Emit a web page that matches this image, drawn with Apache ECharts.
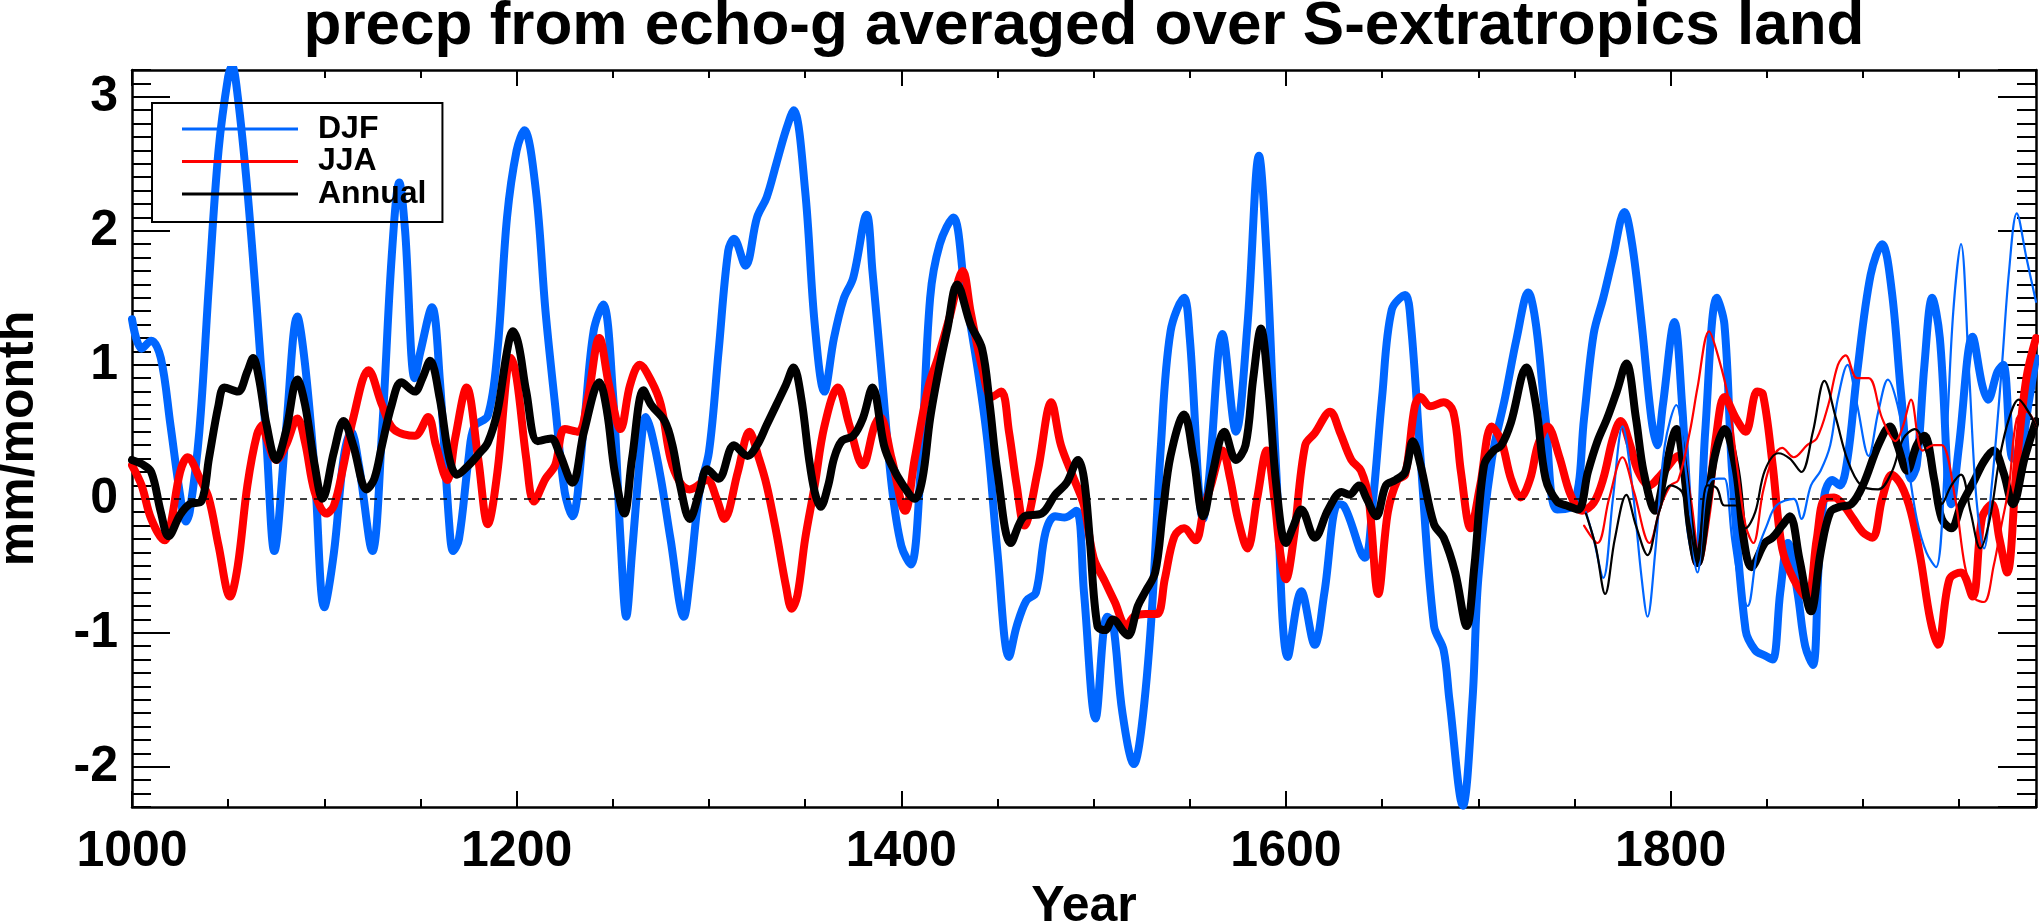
<!DOCTYPE html>
<html>
<head>
<meta charset="utf-8">
<script src="https://cdn.jsdelivr.net/npm/echarts@6/dist/echarts.min.js"></script>
<style>
html,body{margin:0;padding:0;background:#fff;}
#chart{width:2039px;height:924px;}
</style>
</head>
<body>
<div id="chart"></div>
<script>
// ---- data (year, mm/month) ----
const titleText = "precp from echo-g averaged over S-extratropics land";
const xTickYears = [1000, 1200, 1400, 1600, 1800];
const legendNames = ["DJF", "JJA", "Annual"];

const djf = [[1000,1.34],[1005,1.12],[1010,1.18],[1015,1.05],[1020,0.55],[1025,0.03],[1028,-0.17],[1030,-0.1],[1035,0.5],[1040,1.6],[1045,2.6],[1050,3.15],[1052,3.23],[1055,3.0],[1060,2.3],[1065,1.4],[1070,0.4],[1074,-0.39],[1080,0.5],[1086,1.36],[1090,1.0],[1095,0.2],[1100,-0.81],[1105,-0.4],[1110,0.3],[1114,0.5],[1118,0.25],[1125,-0.39],[1130,0.5],[1135,1.8],[1139,2.36],[1142,2.0],[1147,0.9],[1150,1.1],[1156,1.43],[1160,0.9],[1165,-0.2],[1167,-0.39],[1170,-0.3],[1175,0.3],[1178,0.54],[1185,0.62],[1190,1.1],[1195,2.1],[1200,2.6],[1204,2.75],[1210,2.3],[1215,1.4],[1220,0.7],[1225,0.05],[1229,-0.13],[1235,0.55],[1240,1.25],[1245,1.45],[1250,0.8],[1254,-0.3],[1257,-0.88],[1260,-0.4],[1265,0.45],[1267,0.61],[1270,0.5],[1275,0.15],[1280,-0.3],[1287,-0.88],[1290,-0.6],[1295,0.05],[1300,0.35],[1305,1.1],[1310,1.85],[1313,1.94],[1319,1.74],[1325,2.1],[1330,2.25],[1335,2.5],[1340,2.75],[1344,2.9],[1350,2.3],[1355,1.3],[1360,0.8],[1365,1.2],[1370,1.49],[1375,1.65],[1382,2.12],[1385,1.7],[1390,0.9],[1395,0.1],[1400,-0.35],[1405,-0.49],[1410,0.2],[1415,1.5],[1420,1.9],[1427,2.1],[1433,1.56],[1440,0.94],[1445,0.4],[1450,-0.4],[1456,-1.18],[1460,-0.95],[1465,-0.76],[1470,-0.7],[1475,-0.25],[1480,-0.13],[1485,-0.14],[1491,-0.09],[1495,-0.7],[1501,-1.64],[1507,-0.88],[1510,-0.92],[1515,-1.6],[1521,-1.98],[1525,-1.7],[1530,-0.9],[1535,0.4],[1540,1.25],[1547,1.5],[1550,1.2],[1557,-0.15],[1560,0.15],[1567,1.23],[1574,0.5],[1580,1.3],[1586,2.56],[1590,1.8],[1595,0.2],[1601,-1.18],[1608,-0.69],[1615,-1.09],[1620,-0.7],[1627,-0.04],[1630,-0.05],[1641,-0.44],[1645,-0.05],[1650,0.76],[1655,1.41],[1662,1.52],[1665,1.3],[1670,0.3],[1677,-0.95],[1682,-1.13],[1685,-1.5],[1692,-2.29],[1697,-1.5],[1700,-0.6],[1707,0.29],[1714,0.76],[1720,1.2],[1726,1.54],[1730,1.3],[1735,0.6],[1741,-0.08],[1750,-0.04],[1755,0.6],[1760,1.23],[1765,1.5],[1770,1.8],[1776,2.14],[1780,1.9],[1785,1.3],[1790,0.6],[1793,0.4],[1796,0.7],[1802,1.32],[1806,0.7],[1810,-0.2],[1814,-0.48],[1818,0.5],[1824,1.5],[1828,1.3],[1832,0.2],[1839,-0.98],[1844,-1.13],[1849,-1.17],[1853,-1.2],[1857,-0.7],[1861,-0.33],[1866,-0.7],[1870,-1.1],[1874,-1.24],[1877,-0.5],[1880,0.03],[1884,0.14],[1888,0.1],[1892,0.3],[1897,0.94],[1904,1.67],[1910,1.9],[1915,1.55],[1920,0.76],[1925,0.15],[1928,0.25],[1932,1.0],[1936,1.5],[1940,1.2],[1946,-0.04],[1950,0.4],[1957,1.21],[1962,0.85],[1965,0.74],[1970,0.95],[1973,1.0],[1978,0.3],[1982,0.35],[1986,0.7],[1990,1.05]];

const jja = [[1000,0.25],[1005,0.1],[1010,-0.15],[1017,-0.31],[1020,-0.2],[1025,0.2],[1029,0.31],[1035,0.16],[1040,0.0],[1045,-0.35],[1051,-0.73],[1055,-0.5],[1060,0.1],[1065,0.48],[1068,0.55],[1070,0.45],[1075,0.29],[1080,0.4],[1086,0.6],[1090,0.42],[1095,0.05],[1101,-0.11],[1105,-0.05],[1110,0.25],[1115,0.6],[1123,0.96],[1130,0.7],[1136,0.52],[1147,0.47],[1154,0.61],[1158,0.4],[1164,0.14],[1168,0.45],[1174,0.83],[1180,0.3],[1185,-0.19],[1190,0.2],[1195,0.95],[1197,1.05],[1200,0.9],[1205,0.3],[1209,-0.02],[1215,0.15],[1220,0.25],[1225,0.52],[1232,0.5],[1237,0.75],[1243,1.2],[1248,0.85],[1254,0.52],[1259,0.85],[1264,1.0],[1270,0.88],[1275,0.7],[1280,0.3],[1285,0.12],[1290,0.07],[1299,0.14],[1304,0.0],[1308,-0.15],[1315,0.2],[1321,0.5],[1326,0.3],[1330,0.1],[1335,-0.25],[1340,-0.65],[1343,-0.82],[1346,-0.72],[1350,-0.3],[1355,0.1],[1360,0.54],[1367,0.83],[1373,0.55],[1380,0.25],[1386,0.54],[1389,0.61],[1395,0.3],[1402,-0.09],[1407,0.3],[1414,0.83],[1419,1.05],[1425,1.35],[1432,1.7],[1436,1.4],[1442,0.98],[1447,0.76],[1452,0.8],[1456,0.5],[1460,0.1],[1464,-0.2],[1471,0.21],[1478,0.72],[1483,0.4],[1490,0.14],[1495,-0.05],[1500,-0.44],[1506,-0.62],[1511,-0.77],[1517,-0.95],[1521,-0.88],[1527,-0.86],[1533,-0.86],[1537,-0.6],[1542,-0.28],[1547,-0.22],[1553,-0.31],[1557,-0.1],[1561,0.1],[1567,0.36],[1571,0.15],[1575,-0.15],[1580,-0.37],[1585,0.0],[1590,0.36],[1594,0.0],[1597,-0.4],[1600,-0.6],[1604,-0.3],[1610,0.4],[1615,0.49],[1623,0.65],[1628,0.5],[1634,0.29],[1639,0.21],[1643,0.0],[1648,-0.71],[1653,-0.1],[1658,0.14],[1662,0.18],[1667,0.69],[1670,0.76],[1675,0.69],[1682,0.72],[1687,0.65],[1691,0.2],[1696,-0.22],[1701,0.1],[1707,0.54],[1712,0.43],[1717,0.15],[1722,0.01],[1727,0.15],[1731,0.4],[1736,0.54],[1742,0.32],[1748,0.03],[1754,-0.09],[1760,-0.03],[1765,0.15],[1770,0.45],[1774,0.58],[1779,0.4],[1783,0.21],[1789,0.1],[1795,0.18],[1804,0.32],[1809,0.0],[1814,-0.48],[1819,-0.1],[1824,0.5],[1828,0.76],[1834,0.6],[1839,0.5],[1845,0.8],[1848,0.78],[1853,0.26],[1858,-0.37],[1864,-0.6],[1871,-0.74],[1876,-0.3],[1880,0.0],[1885,0.01],[1890,-0.05],[1895,-0.15],[1900,-0.25],[1905,-0.29],[1910,0.0],[1915,0.18],[1920,0.1],[1925,-0.1],[1930,-0.45],[1935,-0.9],[1939,-1.09],[1945,-0.6],[1951,-0.55],[1957,-0.73],[1962,-0.14],[1967,-0.04],[1971,-0.3],[1975,-0.55],[1980,0.26],[1985,0.9],[1990,1.2]];

const annual = [[1000,0.29],[1005,0.26],[1010,0.2],[1015,-0.1],[1019,-0.28],[1025,-0.12],[1030,-0.04],[1036,-0.02],[1040,0.3],[1045,0.7],[1048,0.83],[1055,0.8],[1060,0.95],[1063,1.05],[1066,0.9],[1070,0.55],[1075,0.29],[1080,0.5],[1086,0.89],[1090,0.7],[1095,0.25],[1099,0.0],[1105,0.35],[1110,0.58],[1115,0.4],[1122,0.07],[1126,0.15],[1130,0.4],[1135,0.7],[1140,0.87],[1147,0.8],[1151,0.9],[1155,1.03],[1160,0.75],[1165,0.3],[1169,0.18],[1175,0.25],[1180,0.33],[1185,0.42],[1190,0.65],[1195,1.1],[1198,1.25],[1201,1.15],[1205,0.8],[1211,0.43],[1218,0.45],[1222,0.35],[1229,0.12],[1235,0.5],[1243,0.87],[1247,0.65],[1251,0.2],[1256,-0.11],[1260,0.3],[1266,0.81],[1270,0.7],[1277,0.58],[1281,0.4],[1285,0.1],[1290,-0.15],[1295,0.05],[1299,0.22],[1305,0.15],[1313,0.4],[1320,0.32],[1325,0.4],[1330,0.55],[1335,0.7],[1340,0.85],[1344,0.98],[1348,0.75],[1352,0.3],[1355,0.05],[1358,-0.06],[1362,0.1],[1365,0.3],[1369,0.43],[1375,0.47],[1380,0.6],[1385,0.83],[1391,0.4],[1395,0.25],[1401,0.1],[1407,0.0],[1411,0.15],[1415,0.6],[1420,1.0],[1424,1.27],[1429,1.6],[1436,1.3],[1442,1.12],[1446,0.7],[1450,0.2],[1457,-0.33],[1464,-0.13],[1473,-0.11],[1480,0.03],[1486,0.12],[1492,0.29],[1495,0.15],[1498,-0.3],[1502,-0.95],[1506,-0.98],[1510,-0.9],[1516,-1.0],[1518,-1.02],[1523,-0.8],[1527,-0.69],[1532,-0.55],[1536,-0.1],[1540,0.32],[1547,0.63],[1552,0.3],[1557,-0.13],[1562,0.2],[1568,0.5],[1574,0.29],[1579,0.4],[1583,0.9],[1587,1.27],[1591,0.8],[1595,0.1],[1600,-0.33],[1604,-0.2],[1608,-0.08],[1615,-0.29],[1622,-0.08],[1629,0.05],[1633,0.03],[1638,0.1],[1642,0.0],[1647,-0.13],[1652,0.1],[1657,0.14],[1662,0.2],[1666,0.43],[1670,0.25],[1677,-0.19],[1682,-0.29],[1688,-0.55],[1694,-0.95],[1698,-0.5],[1703,0.25],[1708,0.36],[1712,0.4],[1717,0.57],[1725,0.98],[1730,0.7],[1735,0.15],[1741,-0.02],[1746,-0.05],[1752,-0.08],[1757,0.2],[1762,0.43],[1767,0.6],[1772,0.8],[1777,1.01],[1782,0.6],[1786,0.2],[1792,-0.09],[1797,0.2],[1803,0.52],[1807,0.2],[1810,-0.2],[1814,-0.48],[1819,-0.05],[1823,0.32],[1828,0.52],[1834,0.21],[1838,-0.3],[1842,-0.51],[1849,-0.33],[1853,-0.29],[1858,-0.2],[1862,-0.13],[1867,-0.45],[1873,-0.84],[1878,-0.4],[1883,-0.1],[1888,-0.06],[1894,-0.04],[1900,0.1],[1908,0.4],[1914,0.54],[1918,0.4],[1923,0.21],[1928,0.4],[1932,0.47],[1937,0.15],[1941,-0.15],[1946,-0.22],[1951,-0.05],[1958,0.14],[1963,0.28],[1968,0.36],[1973,0.2],[1978,-0.04],[1984,0.3],[1990,0.58]];

// thin (second set) curves, 1755-1990
const djfThin = [[1756,-0.1],[1760,-0.3],[1765,-0.59],[1770,0.0],[1775,0.54],[1780,0.1],[1785,-0.6],[1788,-0.88],[1792,-0.4],[1797,0.4],[1803,0.7],[1808,0.2],[1814,-0.55],[1818,0.0],[1821,0.14],[1825,0.15],[1828,0.15],[1832,-0.3],[1836,-0.65],[1840,-0.8],[1845,-0.4],[1850,-0.2],[1855,-0.05],[1864,0.0],[1868,-0.15],[1873,0.1],[1878,0.21],[1883,0.4],[1887,0.75],[1892,1.0],[1897,0.7],[1903,0.32],[1908,0.65],[1913,0.89],[1918,0.7],[1923,0.3],[1928,-0.15],[1933,-0.4],[1938,-0.51],[1943,0.35],[1947,1.4],[1951,1.9],[1955,1.0],[1959,0.0],[1963,-0.37],[1967,0.1],[1972,0.94],[1976,1.7],[1980,2.13],[1985,1.8],[1990,1.47]];
const jjaThin = [[1755,-0.2],[1762,-0.33],[1768,0.0],[1775,0.31],[1781,0.05],[1789,-0.33],[1795,-0.05],[1800,0.1],[1804,0.14],[1810,0.5],[1814,0.83],[1820,1.25],[1825,1.05],[1830,0.75],[1835,0.2],[1839,-0.2],[1843,-0.33],[1848,0.05],[1853,0.3],[1858,0.38],[1864,0.31],[1871,0.4],[1876,0.45],[1882,0.7],[1887,1.0],[1891,1.07],[1897,0.9],[1903,0.9],[1910,0.6],[1917,0.43],[1921,0.55],[1925,0.74],[1931,0.36],[1937,0.4],[1941,0.4],[1948,0.0],[1953,-0.5],[1958,-0.74],[1963,-0.77],[1968,-0.5],[1972,-0.2],[1976,0.1],[1980,0.6],[1985,0.65],[1990,0.54]];
const annualThin = [[1756,-0.11],[1761,-0.35],[1766,-0.71],[1771,-0.3],[1777,0.03],[1782,-0.2],[1788,-0.42],[1794,-0.1],[1800,0.1],[1806,0.05],[1810,-0.2],[1814,-0.48],[1819,0.1],[1824,0.08],[1828,-0.05],[1834,-0.05],[1839,-0.22],[1844,-0.1],[1849,0.21],[1856,0.34],[1862,0.3],[1868,0.2],[1874,0.5],[1880,0.88],[1886,0.6],[1892,0.29],[1899,0.1],[1908,0.07],[1915,0.2],[1921,0.45],[1927,0.52],[1933,0.35],[1941,-0.04],[1946,0.1],[1951,0.18],[1956,-0.1],[1961,-0.37],[1966,-0.15],[1971,0.3],[1976,0.6],[1981,0.74],[1986,0.65],[1990,0.54]];

const zeroLine = [0];

// ---- chart ----
const FONT = "'Liberation Sans', Arial, Helvetica, sans-serif";
const BLUE = '#0066ff', RED = '#ff0000', BLACK = '#000000';
const X_MIN = 1000, X_MAX = 1990, Y_MIN = -2.3, Y_MAX = 3.2;

function xAx(pos, interval, len, main) {
  return {
    type: 'value', position: pos, min: X_MIN, max: X_MAX, interval: interval,
    axisLine: { show: main, onZero: false, lineStyle: { color: '#000', width: 2.5 } },
    axisTick: { show: true, inside: true, length: len, lineStyle: { color: '#000', width: 2 } },
    axisLabel: (main && pos === 'bottom') ? {
      show: true, margin: 20, fontSize: 50, fontWeight: 'bold', color: '#000', fontFamily: FONT,
      showMaxLabel: false,
      formatter: v => xTickYears.indexOf(v) >= 0 ? String(v) : ''
    } : { show: false },
    splitLine: { show: false },
    name: (main && pos === 'bottom') ? 'Year' : '',
    nameLocation: 'middle', nameGap: 73,
    nameTextStyle: { fontSize: 50, fontWeight: 'bold', color: '#000', fontFamily: FONT }
  };
}
function yAx(pos, major, len, main) {
  const o = {
    type: 'value', position: pos, min: Y_MIN, max: Y_MAX,
    axisLine: { show: main, onZero: false, lineStyle: { color: '#000', width: 2.5 } },
    axisTick: { show: true, inside: true, length: len, lineStyle: { color: '#000', width: 2 } },
    axisLabel: (main && pos === 'left') ? {
      show: true, margin: 14, fontSize: 50, fontWeight: 'bold', color: '#000', fontFamily: FONT,
      showMinLabel: false, showMaxLabel: false,
      formatter: v => (Math.abs(v - Math.round(v)) < 1e-6 ? String(Math.round(v)) : '')
    } : { show: false },
    splitLine: { show: false },
    name: (main && pos === 'left') ? 'mm/month' : '',
    nameLocation: 'middle', nameGap: 88, nameRotate: 90,
    nameTextStyle: { fontSize: 50, fontWeight: 'bold', color: '#000', fontFamily: FONT }
  };
  if (major) { o.splitNumber = 5; o.minInterval = 1; o.maxInterval = 1; }
  else { o.interval = 0.1; }
  return o;
}

function lineSeries(name, data, color, width, z) {
  return {
    name: name, type: 'line', data: data, xAxisIndex: 0, yAxisIndex: 0,
    showSymbol: false, symbol: 'none', smooth: 0.35, z: z,
    color: color, lineStyle: { color: color, width: width, join: 'round', cap: 'round' },
    emphasis: { disabled: true }, silent: true
  };
}

const chart = echarts.init(document.getElementById('chart'), null, { renderer: 'canvas', width: 2039, height: 924 });
chart.setOption({
  animation: false,
  backgroundColor: '#ffffff',
  title: {
    text: titleText, left: 1084, top: -4, textAlign: 'center', padding: 0,
    textStyle: { fontSize: 62, fontWeight: 'bold', color: '#000', fontFamily: FONT }
  },
  grid: { left: 132, right: 3, top: 70, bottom: 117, containLabel: false, outerBoundsMode: 'none' },
  legend: {
    data: legendNames, orient: 'vertical', left: 152, top: 103,
    padding: [10, 16, 12, 30], itemGap: 0.5, itemWidth: 116, itemHeight: 3, icon: 'rect',
    borderColor: '#000', borderWidth: 2, backgroundColor: 'transparent',
    selectedMode: false,
    textStyle: { fontSize: 32, fontWeight: 'bold', color: '#000', fontFamily: FONT, lineHeight: 30, padding: [0, 0, 0, 15] }
  },
  xAxis: [xAx('bottom', 200, 16, true), xAx('bottom', 50, 8, false), xAx('top', 200, 16, true), xAx('top', 50, 8, false)],
  yAxis: [yAx('left', true, 38, true), yAx('left', false, 19, false), yAx('right', true, 38, true), yAx('right', false, 19, false)],
  series: [
    {
      name: 'zero', type: 'line', data: [], xAxisIndex: 0, yAxisIndex: 0, z: 1, silent: true,
      markLine: {
        silent: true, symbol: ['none', 'none'], label: { show: false },
        lineStyle: { color: '#000', width: 1.5, type: [7, 7] },
        data: zeroLine.map(v => ({ yAxis: v }))
      }
    },
    lineSeries('DJF', djf, BLUE, 8, 2),
    lineSeries('JJA', jja, RED, 8, 3),
    lineSeries('Annual', annual, BLACK, 8, 4),
    lineSeries('DJF thin', djfThin, BLUE, 2.2, 5),
    lineSeries('JJA thin', jjaThin, RED, 2.2, 5),
    lineSeries('Annual thin', annualThin, BLACK, 2.2, 5)
  ]
});
</script>
</body>
</html>
